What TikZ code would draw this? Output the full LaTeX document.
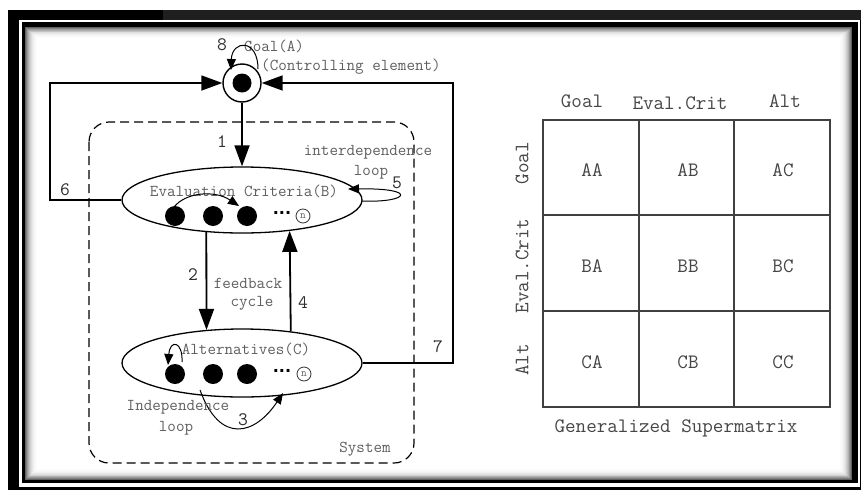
\documentclass[tikz,border=0pt]{standalone}
\usepackage{fontspec}
\newfontfamily\dejavu{DejaVu Sans}
\usetikzlibrary{arrows.meta,shapes.geometric,calc}
\definecolor{txtgray}{RGB}{95,95,95}
\definecolor{numgray}{RGB}{45,45,45}
\definecolor{mtxgray}{RGB}{70,70,70}
\begin{document}
\begin{tikzpicture}[x=1pt,y=-1pt,
  lbl/.style={font=\ttfamily\fontsize{16.6}{18}\selectfont, text=txtgray, inner sep=0},
  num/.style={font=\ttfamily\fontsize{19}{21}\selectfont, text=numgray, inner sep=0},
  mtxt/.style={font=\ttfamily\fontsize{20.5}{22}\selectfont, text=mtxgray, inner sep=0},
  blackdot/.style={circle, fill=black, minimum size=20pt, inner sep=0},
  ncirc/.style={circle, draw=black!80, line width=0.8pt, minimum size=14pt, inner sep=0, font=\ttfamily\fontsize{11}{11}\selectfont, text=txtgray},
  dotsym/.style={font=\dejavu\bfseries\fontsize{16}{16}\selectfont, inner sep=0},
  group/.style={ellipse, draw, line width=1.3pt, minimum width=240pt, inner sep=0},
  conn/.style={line width=1.8pt, -{Triangle[length=21pt,width=15pt]}},
  thinarc/.style={line width=1pt, -{Triangle[length=11pt,width=9pt]}},
  gridline/.style={line width=1.4pt, draw=black!75}
]
\useasboundingbox (0,0) rectangle (861,490);
% frame
\fill[white] (0,0) rectangle (861,490);
\fill[black] (8,10) rectangle (861,490);
\fill[black!88] (163,10) rectangle (861,20);
\fill[white] (19,20) rectangle (860,487);
\fill[black] (22,22) rectangle (858,483);
\foreach \i/\c in {0/62,1/50,2/40,3/31,4/24,5/18,6/13,7/9,8/6,9/4,10/2,11/1}{
  \fill[black!\c] ({25+\i},{27+\i*0.9}) rectangle ({852-\i},{480-\i*0.9});
}
\fill[white] (37,38) rectangle (840,469);

% system box
\draw[line width=1.2pt, dash pattern=on 9pt off 5pt, rounded corners=20pt] (89,122) rectangle (414,463);
\node[lbl] (sys) at (365,449) {System};

% goal
\node[circle, draw, line width=1.4pt, minimum size=38pt, inner sep=0, fill=white] (goal) at (242,83) {};
\node[blackdot, minimum size=19pt] (goaldot) at (goal) {};
\node[num] (n8) at (222,45) {8};
\node[lbl, anchor=west] (goaltxt) at (244,46) {Goal(A)};
\node[lbl, anchor=west] (ctrl) at (261,67) {(Controlling element)};
\coordinate (g8s) at (258,69);
\coordinate (g8e) at (231,70);
\draw[thinarc] (g8s) .. controls (258,38) and (232,40) .. (g8e);

% evaluation criteria
\node[group, minimum height=66pt] (B) at (242,200) {};
\node[lbl] (Btxt) at (244,191) {Evaluation Criteria(B)};
\node[blackdot] (b1) at (175,216) {};
\node[blackdot] (b2) at (213,216) {};
\node[blackdot] (b3) at (247,216) {};
\node[dotsym] (bdots) at (282,213) {...};
\node[ncirc] (bn) at (303,216) {n};
\coordinate (barcs) at (174,207);
\coordinate (barce) at (239,206);
\draw[thinarc] (barcs) .. controls (186,192) and (215,190) .. (barce);

% alternatives
\node[group, minimum height=68pt] (C) at (242,363) {};
\node[lbl] (Ctxt) at (246,349) {Alternatives(C)};
\node[blackdot] (c1) at (175,374) {};
\node[blackdot] (c2) at (213,374) {};
\node[blackdot] (c3) at (247,374) {};
\node[dotsym] (cdots) at (282,371) {...};
\node[ncirc] (cn) at (304,374) {n};
\coordinate (carcs) at (182,362);
\coordinate (carce) at (168,365);
\draw[thinarc] (carcs) .. controls (183,341) and (170,339) .. (carce);

% connector 1
\draw[conn] (goal.south) -- (B.north);
\node[num] (n1) at (222,142) {1};

% connector 6
\coordinate (lc) at (50,83);
\draw[conn] (B.west) -| (lc) -- (goal.west);
\node[num] (n6) at (65,190) {6};

% connector 7
\coordinate (rc) at (453,83);
\draw[conn] (C.east) -| (rc) -- (goal.east);
\node[num] (n7) at (438,347) {7};

% connectors 2 and 4
\draw[conn] (B.222) -- (C.137);
\node[num] (n2) at (193,275) {2};
\draw[conn] (C.33.7) -- (B.327.1);
\node[num] (n4) at (303,303) {4};
\node[lbl] (fb) at (248,283) {feedback};
\node[lbl] (cy) at (252,303) {cycle};

% loop 5
\coordinate (l5s) at (362,201);
\coordinate (l5e) at (348,189);
\draw[thinarc] (l5s) .. controls (408,203) and (420,188) .. (l5e);
\node[num] (n5) at (397,183) {5};
\node[lbl] (intd) at (368,152) {interdependence};
\node[lbl] (intl) at (371,172) {loop};

% loop 3
\coordinate (l3s) at (200,390);
\coordinate (l3e) at (283,393);
\draw[thinarc] (l3s) .. controls (220,445) and (255,435) .. (l3e);
\node[num] (n3) at (243,420) {3};
\node[lbl] (ind) at (178,407) {Independence};
\node[lbl] (indl) at (176,428) {loop};

% supermatrix
\draw[gridline] (543,120) rectangle (830,407);
\draw[gridline] (639,120) -- (639,407);
\draw[gridline] (734,120) -- (734,407);
\draw[gridline] (543,215) -- (830,215);
\draw[gridline] (543,311) -- (830,311);
\node[mtxt] (hg) at (582,101) {Goal};
\node[mtxt] (he) at (680,103) {Eval.Crit};
\node[mtxt] (ha) at (785,101) {Alt};
\node[mtxt, rotate=90] (vg) at (522,163) {Goal};
\node[mtxt, rotate=90] (ve) at (522,266) {Eval.Crit};
\node[mtxt, rotate=90] (va) at (522,360) {Alt};
\node[mtxt] (AA) at (592,170) {AA};
\node[mtxt] (AB) at (688,170) {AB};
\node[mtxt] (AC) at (783,170) {AC};
\node[mtxt] (BA) at (592,266) {BA};
\node[mtxt] (BB) at (688,266) {BB};
\node[mtxt] (BC) at (783,266) {BC};
\node[mtxt] (CA) at (592,362) {CA};
\node[mtxt] (CB) at (688,362) {CB};
\node[mtxt] (CC) at (783,362) {CC};
\node[mtxt] (gs) at (676,428) {Generalized Supermatrix};
\end{tikzpicture}
\end{document}
